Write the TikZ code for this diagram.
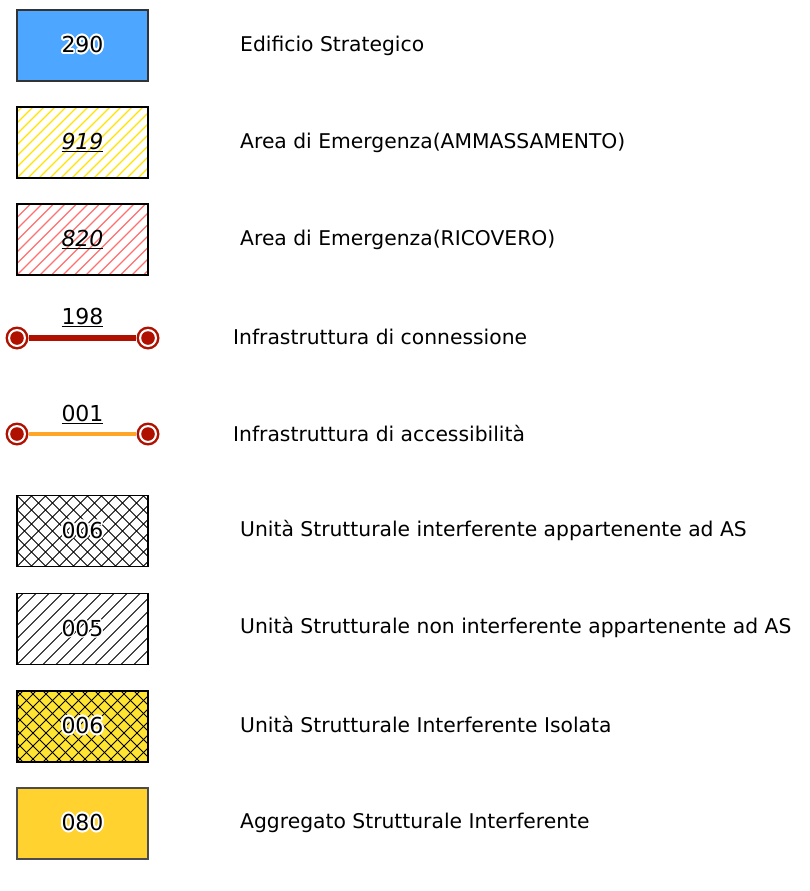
\documentclass[tikz,border=0pt]{standalone}
\usepackage{fontspec}
\setmainfont{DejaVu Sans}
\usepackage{contour}
\contourlength{1.8pt}
\usetikzlibrary{calc}
\definecolor{blueS}{RGB}{77,166,255}
\definecolor{yelH}{RGB}{255,228,0}
\definecolor{redH}{RGB}{255,112,112}
\definecolor{lineRed}{RGB}{176,16,0}
\definecolor{lineOr}{RGB}{255,165,40}
\definecolor{yelX}{RGB}{255,228,50}
\definecolor{aggr}{RGB}{255,210,48}
\tikzset{
  box/.style={draw=black, line width=1.3pt, minimum width=131pt, minimum height=71pt, inner sep=0pt, font=\fontsize{22}{26}\selectfont},
  lbl/.style={anchor=west, inner sep=0pt, font=\fontsize{20.3}{24}\selectfont},
  num/.style={inner sep=0pt, font=\fontsize{22}{26}\selectfont},
  hfwd/.style 2 args={path picture={\foreach \k in {-10,...,18} \draw[#2] ($(path picture bounding box.south west)+({\k*#1},0)$) -- ++(90,-90);}},
  hcross/.style 2 args={path picture={\foreach \k in {-10,...,18} {\draw[#2] ($(path picture bounding box.south west)+({\k*#1},0)$) -- ++(90,-90); \draw[#2] ($(path picture bounding box.north west)+({\k*#1},0)$) -- ++(90,90);}}},
  endpt/.style={circle, fill=lineRed, minimum size=23pt, inner sep=0pt, path picture={\fill[white] (path picture bounding box.center) circle (9pt); \fill[lineRed] (path picture bounding box.center) circle (6.8pt);}},
}
\begin{document}
\begin{tikzpicture}[x=1pt,y=-1pt]
\useasboundingbox (0,0) rectangle (810,891);
% 1 Edificio strategico
\node[box, fill=blueS, draw=black!80] (b1) at (82.5,45.5) {\contour{white}{290}};
\node[lbl] (t1) at (240,45.5) {Edificio Strategico};
% 2 Ammassamento
\node[box, hfwd={11}{yelH, line width=1.2pt}] (b2) at (82.5,142.5) {\underline{\textit{919}}};
\node[lbl] (t2) at (240,142.5) {Area di Emergenza(AMMASSAMENTO)};
% 3 Ricovero
\node[box, hfwd={11.5}{redH, line width=1.1pt}] (b3) at (82.5,239.5) {\underline{\textit{820}}};
\node[lbl] (t3) at (240,239.5) {Area di Emergenza(RICOVERO)};
% 4 connessione
\node[endpt] (c1a) at (17,338) {};
\node[endpt] (c1b) at (148,338) {};
\draw[lineRed, line width=5.5pt] (c1a) -- (c1b);
\node[num] (n4) at (82.5,317) {\underline{198}};
\node[lbl] (t4) at (233,337) {Infrastruttura di connessione};
% 5 accessibilita
\node[endpt] (c2a) at (17,434) {};
\node[endpt] (c2b) at (148,434) {};
\draw[lineOr, line width=4.5pt] (c2a) -- (c2b);
\node[num] (n5) at (82.5,414) {\underline{001}};
\node[lbl] (t5) at (233,434) {Infrastruttura di accessibilità};
% 6 US interferente
\node[box, hcross={14}{black, line width=0.8pt}] (b6) at (82.5,531) {\contour{white}{006}};
\node[lbl] (t6) at (240,530) {Unità Strutturale interferente appartenente ad AS};
% 7 US non interferente
\node[box, hfwd={13}{black, line width=0.8pt}] (b7) at (82.5,629) {\contourlength{1.2pt}\contour{white}{005}};
\node[lbl] (t7) at (240,627) {Unità Strutturale non interferente appartenente ad AS};
% 8 US interferente isolata
\node[box, fill=yelX, hcross={13}{black, line width=0.8pt}] (b8) at (82.5,726.5) {\contour{white}{006}};
\node[lbl] (t8) at (240,725) {Unità Strutturale Interferente Isolata};
% 9 Aggregato
\node[box, fill=aggr, draw=black!70] (b9) at (82.5,823.5) {\contour{white}{080}};
\node[lbl] (t9) at (240,823) {Aggregato Strutturale Interferente};
\end{tikzpicture}
\end{document}
